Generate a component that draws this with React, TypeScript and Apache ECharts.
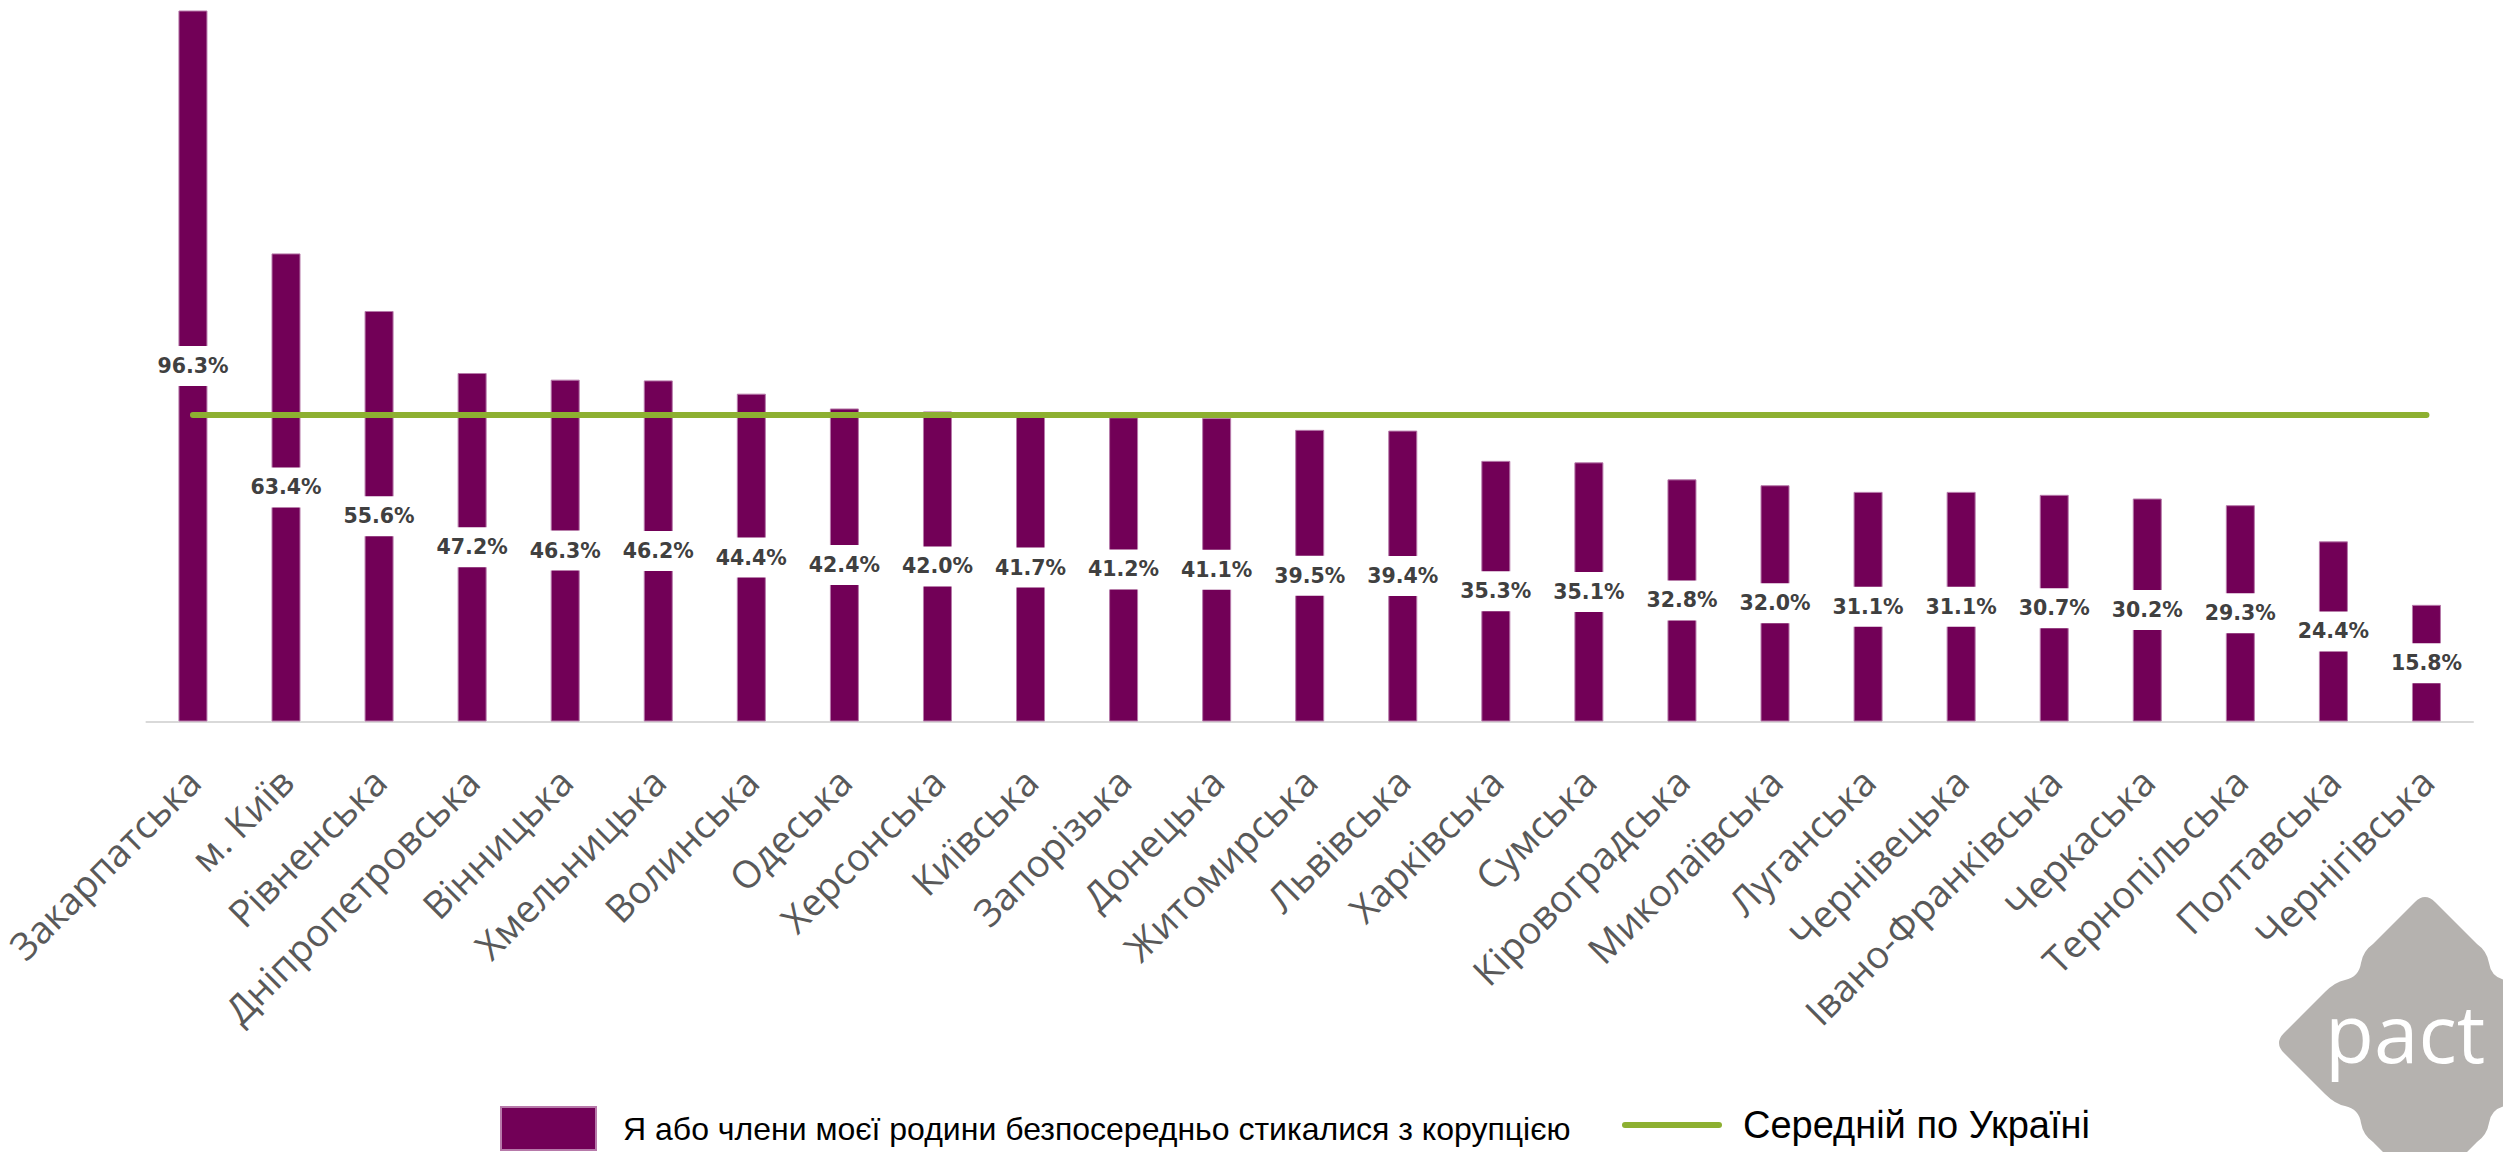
import React, { useEffect, useRef } from "react";
import * as echarts from "echarts";

const categories = [
  "Закарпатська", "м. Київ", "Рівненська", "Дніпропетровська", "Вінницька",
  "Хмельницька", "Волинська", "Одеська", "Херсонська", "Київська",
  "Запорізька", "Донецька", "Житомирська", "Львівська", "Харківська",
  "Сумська", "Кіровоградська", "Миколаївська", "Луганська", "Чернівецька",
  "Івано-Франківська", "Черкаська", "Тернопільська", "Полтавська", "Чернігівська",
];
const corruptionValues = [
  96.3, 63.4, 55.6, 47.2, 46.3, 46.2, 44.4, 42.4, 42.0, 41.7,
  41.2, 41.1, 39.5, 39.4, 35.3, 35.1, 32.8, 32.0, 31.1, 31.1,
  30.7, 30.2, 29.3, 24.4, 15.8,
];
const ukraineAverage = 41.5;
const averageValues = categories.map(() => ukraineAverage);

const seriesBarName = "Я або члени моєї родини безпосередньо стикалися з корупцією";
const seriesLineName = "Середній по Україні";

const LOGO_PATH =
  "M -141,-10 L -100,-51 Q -90,-61 -80,-63 Q -66,-66 -64,-80 Q -62,-92 -52,-99 L -10,-141 Q 0,-151 10,-141 " +
  "L 52,-99 Q 62,-92 64,-80 Q 66,-66 80,-63 Q 90,-61 100,-51 L 141,-10 Q 151,0 141,10 " +
  "L 100,51 Q 90,61 80,63 Q 66,66 64,80 Q 62,92 52,99 L 10,141 Q 0,151 -10,141 " +
  "L -52,99 Q -62,92 -64,80 Q -66,66 -80,63 Q -90,61 -100,51 L -141,10 Q -151,0 -141,-10 Z";

let registered = false;

export default function App() {
  const ref = useRef<HTMLDivElement>(null);
  useEffect(() => {
    document.body.style.margin = "0";
    if (!registered) {
      echarts.graphic.registerShape("pactLogo", echarts.graphic.extendPath(LOGO_PATH, {}));
      registered = true;
    }
    const chart = echarts.init(ref.current!, undefined, { renderer: "svg" });
    const purple = "#720057";
    const green = "#8DB031";
    chart.setOption({
      animation: false,
      backgroundColor: "#ffffff",
      grid: { left: 135, right: 30, top: 10.5, bottom: 430.5, containLabel: false },
      legend: [
        {
          data: [{ name: seriesBarName, icon: "rect" }],
          left: 500,
          top: 1106,
          padding: 0,
          itemWidth: 95,
          itemHeight: 43,
          selectedMode: false,
          textStyle: {
            fontFamily: "'Liberation Sans', Arial, sans-serif",
            fontSize: 32,
            color: "#000000",
            padding: [0, 0, 0, 22],
          },
        },
        {
          data: [{ name: seriesLineName }],
          left: 1622,
          top: 1106,
          padding: 0,
          itemWidth: 94,
          itemHeight: 43,
          selectedMode: false,
          lineStyle: { width: 6 },
          itemStyle: { opacity: 0 },
          textStyle: {
            fontFamily: "'Liberation Sans', Arial, sans-serif",
            fontSize: 38,
            color: "#000000",
            padding: [0, 0, 0, 19],
          },
        },
      ],
      xAxis: {
        type: "category",
        data: categories,
        axisTick: { show: false },
        axisLine: { lineStyle: { color: "#D9D9D9", width: 2 } },
        axisLabel: {
          interval: 0,
          rotate: 45,
          margin: 53,
          padding: [28, 0, 0, 0],
          fontFamily: "'Open Sans', sans-serif",
          fontSize: 38,
          color: "#595959",
        },
      },
      yAxis: {
        type: "value",
        min: 0,
        max: 96.3,
        show: false,
        splitLine: { show: false },
      },
      series: [
        {
          name: seriesBarName,
          type: "bar",
          data: corruptionValues,
          barWidth: 29,
          itemStyle: { color: purple, borderColor: "#B77AAA", borderWidth: 1 },
          label: {
            show: true,
            position: "inside",
            formatter: (p: any) => Number(p.value).toFixed(1) + "%",
            fontFamily: "'DejaVu Sans', sans-serif",
            fontWeight: "bold",
            fontSize: 20.5,
            lineHeight: 22,
            color: "#404040",
            backgroundColor: "#ffffff",
            padding: [9, 3],
          },
          z: 2,
        },
        {
          name: seriesLineName,
          type: "line",
          data: averageValues,
          symbol: "none",
          lineStyle: { color: green, width: 6, cap: "round" },
          itemStyle: { color: green },
          z: 3,
        },
      ],
      graphic: [
        {
          type: "pactLogo",
          x: 2425,
          y: 1043,
          style: { fill: "#B5B2AF" },
          z: 10,
        },
        {
          type: "text",
          x: 2325,
          y: 1031,
          style: {
            text: "pact",
            fontFamily: "'Open Sans', sans-serif",
            fontSize: 80,
            fill: "#ffffff",
            verticalAlign: "middle",
          },
          z: 11,
        },
      ],
    });
    return () => chart.dispose();
  }, []);
  return <div ref={ref} style={{ width: 2503, height: 1152 }} />;
}
